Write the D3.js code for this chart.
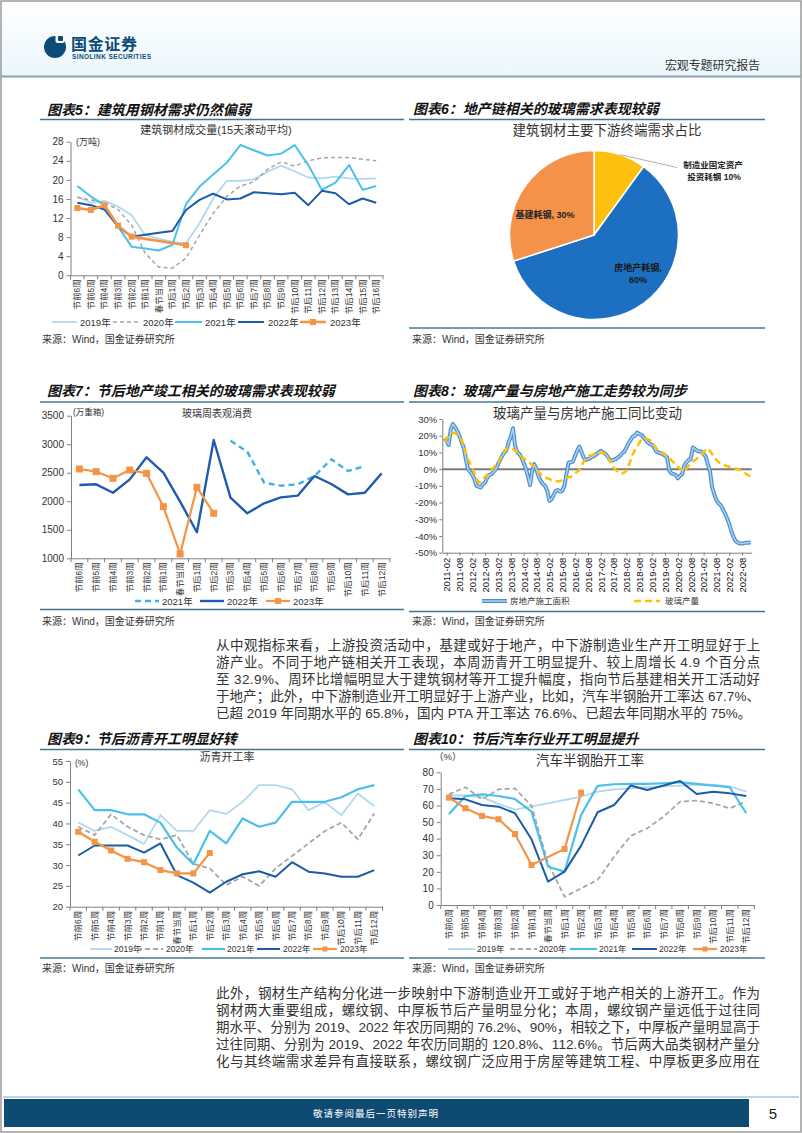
<!DOCTYPE html>
<html><head><meta charset="utf-8">
<script src="https://cdn.jsdelivr.net/npm/d3@7"></script>
<style>
body{margin:0;background:#fff;}
svg{display:block;font-family:"Liberation Sans","Noto Sans CJK SC",sans-serif;}
</style></head><body>
<svg id="page" width="802" height="1133"></svg>
<script>
// ---------------- DATA ----------------
const weekCats23 = ["节前6周","节前5周","节前4周","节前3周","节前2周","节前1周","春节当周","节后1周","节后2周","节后3周","节后4周","节后5周","节后6周","节后7周","节后8周","节后9周","节后10周","节后11周","节后12周","节后13周","节后14周","节后15周","节后16周"];
const weekCats19 = ["节前6周","节前5周","节前4周","节前3周","节前2周","节前1周","春节当周","节后1周","节后2周","节后3周","节后4周","节后5周","节后6周","节后7周","节后8周","节后9周","节后10周","节后11周","节后12周"];
const yearNames = ["2019年","2020年","2021年","2022年","2023年"];

// Chart 5: 建筑钢材成交量 (万吨)
const steelTicks = [0,4,8,12,16,20,24,28];
const steel2019 = [16.5,15.2,15.6,14.4,12.6,8.4,7.7,7.0,6.7,10.9,16.1,19.8,19.8,20.1,21.7,23.0,21.8,20.5,20.3,20.7,20.3,20.2,20.3];
const steel2020 = [16.3,15.8,15.2,13.8,10.5,4.6,1.7,1.5,3.6,8.4,13.0,16.5,18.7,19.6,22.2,23.8,22.9,24.0,24.6,24.7,24.7,24.3,24.0];
const steel2021 = [18.7,16.5,14.7,10.2,6.0,5.6,5.2,6.4,14.9,18.6,21.1,23.6,27.3,26.2,25.1,25.5,27.3,23.1,17.9,19.4,23.1,17.9,18.7];
const steel2022 = [15.2,14.7,13.8,10.2,8.1,8.5,8.9,9.3,13.7,15.8,17.1,15.9,16.1,17.4,17.2,17.0,17.3,14.7,17.7,17.2,14.9,16.1,15.2];
const steel2023 = [14.1,13.7,14.7,10.4,8.1,null,null,null,6.3,null,null,null,null,null,null,null,null,null,null,null,null,null,null];

// Chart 6: pie
const pieLabels = ["制造业固定资产投资耗钢","房地产耗钢","基建耗钢"];
const pieValues = [10,60,30];

// Chart 7: 玻璃周表观消费 (万重箱)
const glassTicks = [1000,1500,2000,2500,3000,3500];
const glass2021 = [null,null,null,null,null,null,null,null,null,3062,2869,2326,2273,2297,2443,2735,2530,2618,null];
const glass2022 = [2285,2297,2150,2384,2770,2501,1993,1456,3074,2063,1789,1964,2069,2098,2443,2302,2121,2150,2489];
const glass2023 = [2565,2519,2402,2548,2489,1905,1076,2244,1789,null,null,null,null,null,null,null,null,null,null];

// Chart 8: 玻璃产量与房地产施工同比 (%), monthly 2011-01 .. 2022-12
const yoyTicks = [-50,-40,-30,-20,-10,0,10,20,30];
const yoyDateTicks = ["2011-02","2011-08","2012-02","2012-08","2013-02","2013-08","2014-02","2014-08","2015-02","2015-08","2016-02","2016-08","2017-02","2017-08","2018-02","2018-08","2019-02","2019-08","2020-02","2020-08","2021-02","2021-08","2022-02","2022-08"];
const constructionYoY = [
 18.5,17,14.5,24,27,25,23,20,16,13,6,0,
 -1.5,-3.5,-6,-10,-10.5,-11,-9,-8,-5,-3.5,-3,-1.5,
 0,3,5.5,8,10,11.5,16,19.5,24.5,14,10,9,
 7,3.5,0.5,-4,-9.5,-1,3,-0.5,-4.5,-7,-9,-10,
 -13,-19,-18,-15.5,-13,-12.5,-13.5,-13,-10,-3,4,4,
 4.5,8,11,13.5,10.5,7,5.5,6,6.5,7.5,8,9,
 10,11,10,9.5,8,6,5,5.5,6,7,8,9.5,
 10.5,13,15.5,17.5,19.5,20,21.8,21,20.5,19,17.5,16,
 15,14.5,13,10.5,10,9.5,9,8,7,-1,-2.5,-3,
 -3.5,-5.5,-4,-3,2,4,5.5,6,13,12,11,10.5,
 10.5,9,7.5,3,-1,-10.5,-15,-18.5,-20.5,-21.5,-24,-26.5,
 -29.5,-33,-37,-40.5,-43,-44,-44.5,-44.5,-44.3,-44,-44,-43.8];
const glassOutputYoY = [
 16.4,18.4,20,21.2,21.6,21.8,20.5,19,17.4,13.5,10,6,
 3.5,0.5,-2.5,-5.5,-8.2,-7.5,-6.2,-4.5,-3.3,-2,-0.5,1,
 2.5,3.5,6,8.5,10.5,12.2,12.4,12.4,12,11,10,8.5,
 7.5,6.5,5.5,4.6,3.5,2.5,1.5,0,-1.6,-3,-4,-4.8,
 -5.5,-6,-6.5,-6.8,-7,-7.2,-7.2,-6.5,-5.6,-5,-4.8,-4.6,
 -4,-2.5,-1.5,-0.6,2,4.5,6.4,7.5,8.2,8.4,9.2,9.8,
 10,9.8,9.6,9.4,7.5,5.5,3.4,1,-0.5,-1.6,-2.2,-2.6,
 -2,-0.8,2,5.5,9,11.5,13.4,15.8,17.8,18.2,18.4,18,
 17.2,16.4,14.5,12.4,11.5,10.8,10,9,8,6.8,5.3,4,
 2.8,1.5,0.2,-0.6,-1.6,0.5,2,3.4,4.5,5.4,6.5,7.5,
 8.4,10,11.5,12.4,11,9,7.4,5.5,4.2,3.4,2.8,2.2,
 1.8,1.4,1,0.8,0.4,0,-0.6,-1.2,-2,-3,-3.8,-4.6];
const yoyNames = ["房地产施工面积","玻璃产量"];

// Chart 9: 沥青开工率 (%)
const asphTicks = [20,25,30,35,40,45,50,55];
const asph2019 = [40.2,38.2,39.2,37.2,35.1,42.0,38.2,38.2,43.2,42.3,45.2,49.2,49.2,48.2,43.2,45.1,42.0,47.2,44.2];
const asph2020 = [39.2,37.2,42.2,39.2,37.2,36.2,37.2,30.3,29.2,25.2,27.2,25.0,29.2,32.2,35.2,38.2,40.2,36.2,42.4];
const asph2021 = [48.2,43.2,43.2,42.2,42.2,40.2,34.2,30.2,38.2,35.2,41.2,39.2,40.2,45.2,45.2,45.2,46.3,48.2,49.2];
const asph2022 = [32.3,34.7,34.7,34.7,33.0,35.2,27.6,25.8,23.4,26.0,27.8,28.5,27.2,30.7,28.4,28.0,27.2,27.2,28.8];
const asph2023 = [38.0,35.6,33.5,31.5,30.7,28.8,28.0,28.0,32.9,null,null,null,null,null,null,null,null,null,null];

// Chart 10: 汽车半钢胎开工率 (%)
const tireTicks = [0,10,20,30,40,50,60,70,80];
const tire2019 = [66,66,65,61,57.5,59.5,61.3,63.3,65.3,68.3,69.7,70.3,71,71.5,72,72.5,72.5,71.5,68.3];
const tire2020 = [66.7,71,63.7,69.7,70.3,59.7,25.1,5.0,10,15.1,29.1,41.6,46.2,53.3,62.3,62.9,61.3,58.3,62.3];
const tire2021 = [54.9,65.7,66.7,65.7,63.9,56.3,23.1,20.1,54.3,71.8,72.8,73.0,73.0,73.4,74.0,73.0,72.0,71.0,55.3];
const tire2022 = [64.3,63.7,60.3,59.3,55.3,39.6,14.1,20.1,35.8,55.9,60.3,72.0,69.3,72.0,74.8,66.9,68.3,67.3,65.7];
const tire2023 = [64.7,58.3,53.7,51.7,42.8,24.1,null,33.8,67.7,null,null,null,null,null,null,null,null,null,null];

// Text
const para1 = [
 "从中观指标来看，上游投资活动中，基建或好于地产，中下游制造业生产开工明显好于上",
 "游产业。不同于地产链相关开工表现，本周沥青开工明显提升、较上周增长 4.9 个百分点",
 "至 32.9%、周环比增幅明显大于建筑钢材等开工提升幅度，指向节后基建相关开工活动好",
 "于地产；此外，中下游制造业开工明显好于上游产业，比如，汽车半钢胎开工率达 67.7%、",
 "已超 2019 年同期水平的 65.8%，国内 PTA 开工率达 76.6%、已超去年同期水平的 75%。"];
const para2 = [
 "此外，钢材生产结构分化进一步映射中下游制造业开工或好于地产相关的上游开工。作为",
 "钢材两大重要组成，螺纹钢、中厚板节后产量明显分化；本周，螺纹钢产量远低于过往同",
 "期水平、分别为 2019、2022 年农历同期的 76.2%、90%，相较之下，中厚板产量明显高于",
 "过往同期、分别为 2019、2022 年农历同期的 120.8%、112.6%。节后两大品类钢材产量分",
 "化与其终端需求差异有直接联系，螺纹钢广泛应用于房屋等建筑工程、中厚板更多应用在"];

// ---------------- STYLES ----------------
const FONT = '"Liberation Sans","Noto Sans CJK SC",sans-serif';
const C19 = "#b0d8f0", C20 = "#a6a6a6", C21 = "#4cc0ea", C22 = "#1b5ca6", C23 = "#f39446";
const LINEC = "#44748f", AXC = "#808080";
const svg = d3.select("#page");

function txt(x, y, s, o = {}) {
  const t = svg.append("text").attr("x", x).attr("y", y)
    .attr("dominant-baseline", "central")
    .attr("font-size", o.size || 10).attr("fill", o.fill || "#222")
    .attr("font-weight", o.weight || 400).attr("font-style", o.style || "normal")
    .attr("text-anchor", o.anchor || "start").text(s);
  if (o.len) t.attr("textLength", o.len).attr("lengthAdjust", "spacing");
  if (o.ls) t.attr("letter-spacing", o.ls);
  return t;
}
function hline(x1, x2, y, c, w) {
  svg.append("line").attr("x1", x1).attr("x2", x2).attr("y1", y).attr("y2", y).attr("stroke", c).attr("stroke-width", w);
}

// ---------------- PAGE FRAME ----------------
const defs = svg.append("defs");
const hg = defs.append("linearGradient").attr("id", "hg").attr("x1", 0).attr("y1", 0).attr("x2", 0).attr("y2", 1);
hg.append("stop").attr("offset", 0).attr("stop-color", "#ffffff");
hg.append("stop").attr("offset", 1).attr("stop-color", "#ebf7fc");
svg.append("rect").attr("x", 0).attr("y", 0).attr("width", 802).attr("height", 76).attr("fill", "url(#hg)");
hline(1, 801, 76.5, "#8aa2b4", 2);
svg.append("rect").attr("x", 1).attr("y", 1).attr("width", 800).attr("height", 1131).attr("fill", "none").attr("stroke", "#9a9a9a").attr("stroke-width", 1.5);

// logo
svg.append("circle").attr("cx", 55).attr("cy", 47).attr("r", 11).attr("fill", "#0d4b78");
svg.append("rect").attr("x", 55.5).attr("y", 34).attr("width", 9).attr("height", 9).attr("rx", 2).attr("fill", "#ffffff");
svg.append("rect").attr("x", 58).attr("y", 36).attr("width", 5).attr("height", 5).attr("rx", 1).attr("fill", "#0d4b78");
txt(71, 44, "国金证券", {size: 16, weight: 700, fill: "#0d4b78", len: 66});
txt(72, 56.5, "SINOLINK SECURITIES", {size: 6.5, weight: 700, fill: "#0d4b78", len: 79});
txt(665, 66, "宏观专题研究报告", {size: 12, fill: "#333", len: 95});

// footer
hline(3, 799, 1097, "#a9c6da", 1.5);
svg.append("rect").attr("x", 4).attr("y", 1099).attr("width", 745).attr("height", 28).attr("fill", "#0f4a72");
txt(376, 1113, "敬请参阅最后一页特别声明", {size: 9.5, fill: "#ffffff", anchor: "middle", ls: 1});
txt(773, 1113, "5", {size: 15, fill: "#222", anchor: "middle"});

// ---------------- PARAGRAPHS ----------------
para1.forEach((s, i) => txt(216, 645.5 + i * 17, s, {size: 13.5, fill: "#333", len: i < 4 ? 544 : null}));
para2.forEach((s, i) => txt(216, 993 + i * 17.2, s, {size: 13.5, fill: "#333", len: 544}));

// ---------------- TITLES ----------------
function title(x, y, s, lx1, lx2, ly) {
  txt(x, y, s, {size: 14, weight: 700, style: "italic", fill: "#111"});
  hline(lx1, lx2, ly, LINEC, 1.6);
}
title(47, 110, "图表5：建筑用钢材需求仍然偏弱", 40, 404, 119.5);
title(413, 109, "图表6：地产链相关的玻璃需求表现较弱", 409, 765, 119.5);
title(47, 391, "图表7：节后地产竣工相关的玻璃需求表现较弱", 40, 404, 402);
title(413, 391, "图表8：玻璃产量与房地产施工走势较为同步", 409, 765, 402);
title(47, 739, "图表9：节后沥青开工明显好转", 40, 404, 749.5);
title(413, 739, "图表10：节后汽车行业开工明显提升", 409, 765, 749.5);

hline(409, 765, 328, LINEC, 1.4);
hline(40, 404, 609.5, LINEC, 1.4);
hline(409, 765, 611.5, LINEC, 1.4);
hline(40, 404, 958, LINEC, 1.4);
hline(409, 765, 958, LINEC, 1.4);

const src = "来源：Wind，国金证券研究所";
[[42, 339], [412, 339], [42, 621], [412, 621], [42, 968.5], [412, 968.5]].forEach(p => txt(p[0], p[1], src, {size: 10, fill: "#333"}));

// ---------------- HELPERS ----------------
function styleAxis(a, fs) {
  a.attr("font-family", FONT);
  a.select(".domain").attr("stroke", AXC);
  a.selectAll(".tick line").attr("stroke", AXC);
  a.selectAll("text").attr("font-size", fs).attr("fill", "#333");
}
function catChart(o) {
  const x = d3.scaleBand().domain(o.cats).range([o.left, o.right]);
  const bw = x.bandwidth();
  const y = d3.scaleLinear().domain(o.domain).range([o.bottom, o.top]);
  const g = svg.append("g");
  const ya = g.append("g").attr("transform", `translate(${o.left},0)`)
    .call(d3.axisLeft(y).tickValues(o.ticks).tickSize(4).tickSizeOuter(0).tickPadding(3).tickFormat(d => String(d)));
  styleAxis(ya, o.yFont || 10);
  const xa = g.append("g").attr("transform", `translate(0,${o.bottom})`)
    .call(d3.axisBottom(x).tickSize(0).tickSizeOuter(0));
  styleAxis(xa, o.xFont || 8.5);
  xa.selectAll("text").attr("transform", "rotate(-90)").attr("text-anchor", "end")
    .attr("x", -4).attr("y", 0).attr("dy", "0.35em");
  g.append("g").selectAll("line").data(d3.range(o.cats.length + 1)).join("line")
    .attr("x1", i => o.left + i * bw).attr("x2", i => o.left + i * bw)
    .attr("y1", o.bottom).attr("y2", o.bottom + 4).attr("stroke", AXC);
  o.series.forEach(s => {
    const pts = s.values.map((v, i) => ({c: o.cats[i], v})).filter(d => d.v != null);
    g.append("path").datum(pts)
      .attr("d", d3.line().x(d => x(d.c) + bw / 2).y(d => y(d.v)))
      .attr("fill", "none").attr("stroke", s.color).attr("stroke-width", s.width || 2)
      .attr("stroke-dasharray", s.dash || null).attr("stroke-linejoin", "round");
    if (s.marker) {
      g.append("g").selectAll("rect").data(pts).join("rect")
        .attr("x", d => x(d.c) + bw / 2 - s.marker / 2).attr("y", d => y(d.v) - s.marker / 2)
        .attr("width", s.marker).attr("height", s.marker).attr("fill", s.color);
    }
  });
  return {x, y};
}
function legend(y, items, fs) {
  items.forEach(it => {
    if (it.double) {
      hline(it.x1, it.x2, y, it.double[0], 4);
      hline(it.x1, it.x2, y, it.double[1], 1.5);
    } else {
      svg.append("line").attr("x1", it.x1).attr("x2", it.x2).attr("y1", y).attr("y2", y)
        .attr("stroke", it.color).attr("stroke-width", it.width || 2).attr("stroke-dasharray", it.dash || null);
    }
    if (it.marker) {
      const m = it.marker, cx = (it.x1 + it.x2) / 2;
      svg.append("rect").attr("x", cx - m / 2).attr("y", y - m / 2).attr("width", m).attr("height", m).attr("fill", it.color);
    }
    txt(it.tx, y, it.text, {size: fs || 9, fill: "#333"});
  });
}

// ---------------- CHART 5 ----------------
txt(216, 130, "建筑钢材成交量(15天滚动平均)", {size: 11, fill: "#333", anchor: "middle"});
txt(76, 142, "(万吨)", {size: 9, fill: "#333"});
catChart({cats: weekCats23, left: 70.5, right: 383, top: 141.7, bottom: 275.3, domain: [0, 28], ticks: steelTicks,
  series: [
    {values: steel2019, color: C19, width: 1.8},
    {values: steel2020, color: C20, width: 1.5, dash: "4,3"},
    {values: steel2021, color: C21, width: 2},
    {values: steel2022, color: C22, width: 2},
    {values: steel2023, color: C23, width: 2.6, marker: 6}
  ]});
legend(322, [
  {x1: 52, x2: 77, tx: 80, text: yearNames[0], color: C19, width: 1.8},
  {x1: 113, x2: 140, tx: 143, text: yearNames[1], color: C20, width: 1.5, dash: "4,3"},
  {x1: 175, x2: 202, tx: 205, text: yearNames[2], color: C21},
  {x1: 238, x2: 264, tx: 268, text: yearNames[3], color: C22},
  {x1: 300, x2: 326, tx: 330, text: yearNames[4], color: C23, width: 2.6, marker: 6}
], 9.5);

// ---------------- CHART 6 (pie) ----------------
txt(607, 130, "建筑钢材主要下游终端需求占比", {size: 13.5, fill: "#333", anchor: "middle"});
const pieColors = ["#fec00f", "#1c6fc1", "#f5924a"];
const arcs = d3.pie().sort(null).value(d => d)(pieValues);
const R = 84.5, pcx = 594, pcy = 235;
const arcGen = d3.arc().innerRadius(0).outerRadius(R);
const pg = svg.append("g").attr("transform", `translate(${pcx},${pcy})`);
pg.selectAll("path").data(arcs).join("path").attr("d", arcGen)
  .attr("fill", (d, i) => pieColors[i]).attr("stroke", "#fff").attr("stroke-width", 1.5);
const a0 = (arcs[0].startAngle + arcs[0].endAngle) / 2;
svg.append("line").attr("x1", pcx + R * Math.sin(a0)).attr("y1", pcy - R * Math.cos(a0))
  .attr("x2", 677).attr("y2", 167.5).attr("stroke", "#9a9a9a").attr("stroke-width", 0.8);
txt(713, 165, pieLabels[0].slice(0, 7), {size: 8.5, weight: 700, fill: "#222", anchor: "middle"});
txt(714, 177, pieLabels[0].slice(7) + " " + pieValues[0] + "%", {size: 8.5, weight: 700, fill: "#222", anchor: "middle"});
txt(545, 215, pieLabels[2] + ", " + pieValues[2] + "%", {size: 9, weight: 700, fill: "#222", anchor: "middle"});
txt(638, 268, pieLabels[1] + ",", {size: 9, weight: 700, fill: "#1a1a1a", anchor: "middle"});
txt(638, 279.5, pieValues[1] + "%", {size: 9, weight: 700, fill: "#1a1a1a", anchor: "middle"});

// ---------------- CHART 7 ----------------
txt(217, 413, "玻璃周表观消费", {size: 10, fill: "#333", anchor: "middle"});
txt(73, 412, "(万重箱)", {size: 8.5, fill: "#333"});
catChart({cats: weekCats19, left: 71, right: 390, top: 415.7, bottom: 558.3, domain: [1000, 3500], ticks: glassTicks,
  series: [
    {values: glass2021, color: "#3fb0e4", width: 2.4, dash: "6,4"},
    {values: glass2022, color: "#1f5bae", width: 2.4},
    {values: glass2023, color: C23, width: 2.2, marker: 7}
  ]});
legend(601, [
  {x1: 135, x2: 159, tx: 162, text: yearNames[2], color: "#3fb0e4", width: 2.4, dash: "6,4"},
  {x1: 200, x2: 224, tx: 227, text: yearNames[3], color: "#1f5bae", width: 2.4},
  {x1: 266, x2: 290, tx: 293, text: yearNames[4], color: C23, width: 2.2, marker: 6}
], 9.5);

// ---------------- CHART 8 ----------------
txt(587.5, 413, "玻璃产量与房地产施工同比变动", {size: 13.5, fill: "#333", anchor: "middle"});
{
  const parse = d3.timeParse("%Y-%m");
  const months = d3.timeMonth.range(new Date(2011, 0, 1), new Date(2023, 0, 1));
  const x = d3.scaleTime().domain([new Date(2010, 11, 1), new Date(2022, 11, 16)]).range([442.3, 751.7]);
  const y = d3.scaleLinear().domain([-50, 30]).range([552.7, 419]);
  const g = svg.append("g");
  const ya = g.append("g").attr("transform", "translate(442.3,0)")
    .call(d3.axisLeft(y).tickValues(yoyTicks).tickSize(3).tickSizeOuter(0).tickPadding(2).tickFormat(d => d + "%"));
  styleAxis(ya, 9.5);
  const xa = g.append("g").attr("transform", "translate(0,552.7)")
    .call(d3.axisBottom(x).tickValues(yoyDateTicks.map(parse)).tickSize(3).tickSizeOuter(0).tickFormat(d3.timeFormat("%Y-%m")));
  styleAxis(xa, 9.5);
  xa.selectAll("text").attr("transform", "rotate(-90)").attr("text-anchor", "end")
    .attr("x", -5).attr("y", 0).attr("dy", "0.35em").attr("fill", "#111");
  g.append("line").attr("x1", 442.3).attr("x2", 751.7).attr("y1", y(0)).attr("y2", y(0)).attr("stroke", "#7a7a7a").attr("stroke-width", 2);
  const line = d3.line().x((d, i) => x(months[i])).y(d => y(d));
  g.append("path").datum(constructionYoY).attr("d", line).attr("fill", "none").attr("stroke", "#4a90cf").attr("stroke-width", 4).attr("stroke-linejoin", "round");
  g.append("path").datum(constructionYoY).attr("d", line).attr("fill", "none").attr("stroke", "#aed2f0").attr("stroke-width", 1.5).attr("stroke-linejoin", "round");
  g.append("path").datum(glassOutputYoY).attr("d", line).attr("fill", "none").attr("stroke", "#ffc000").attr("stroke-width", 2.5).attr("stroke-dasharray", "7,4");
}
legend(601, [
  {x1: 482, x2: 507, tx: 510, text: yoyNames[0], double: ["#4a90cf", "#aed2f0"]},
  {x1: 634, x2: 660, tx: 665, text: yoyNames[1], color: "#ffc000", width: 2.5, dash: "7,4"}
], 8.5);

// ---------------- CHART 9 ----------------
txt(227, 757, "沥青开工率", {size: 11, fill: "#333", anchor: "middle"});
txt(75, 763, "(%)", {size: 8.5, fill: "#333"});
catChart({cats: weekCats19, left: 70, right: 382.5, top: 761, bottom: 906.7, domain: [20, 55], ticks: asphTicks, yFont: 9.5,
  series: [
    {values: asph2019, color: C19, width: 1.8},
    {values: asph2020, color: C20, width: 1.8, dash: "5,3"},
    {values: asph2021, color: C21, width: 2.2},
    {values: asph2022, color: C22, width: 2},
    {values: asph2023, color: C23, width: 2.2, marker: 6}
  ]});
legend(949, [
  {x1: 90, x2: 112, tx: 114, text: yearNames[0], color: C19, width: 1.8},
  {x1: 137, x2: 163, tx: 166, text: yearNames[1], color: C20, width: 1.8, dash: "5,3"},
  {x1: 202, x2: 225, tx: 227, text: yearNames[2], color: C21, width: 2.2},
  {x1: 257, x2: 280, tx: 283, text: yearNames[3], color: C22},
  {x1: 313, x2: 337, tx: 340, text: yearNames[4], color: C23, width: 2.2, marker: 5}
], 8.5);

// ---------------- CHART 10 ----------------
txt(590, 760, "汽车半钢胎开工率", {size: 13.5, fill: "#333", anchor: "middle"});
txt(434, 756, "（%）", {size: 9.5, fill: "#333"});
catChart({cats: weekCats19, left: 440.7, right: 754.5, top: 772.3, bottom: 905, domain: [0, 80], ticks: tireTicks,
  series: [
    {values: tire2019, color: C19, width: 1.8},
    {values: tire2020, color: C20, width: 1.8, dash: "5,3"},
    {values: tire2021, color: C21, width: 2.2},
    {values: tire2022, color: C22, width: 2},
    {values: tire2023, color: C23, width: 2.2, marker: 6}
  ]});
legend(949, [
  {x1: 448, x2: 475, tx: 477, text: yearNames[0], color: C19, width: 1.8},
  {x1: 510, x2: 537, tx: 539, text: yearNames[1], color: C20, width: 1.8, dash: "5,3"},
  {x1: 570, x2: 597, tx: 599, text: yearNames[2], color: C21, width: 2.2},
  {x1: 632, x2: 657, tx: 659, text: yearNames[3], color: C22},
  {x1: 693, x2: 717, tx: 720, text: yearNames[4], color: C23, width: 2.2, marker: 5}
], 8.5);
</script>
</body></html>
